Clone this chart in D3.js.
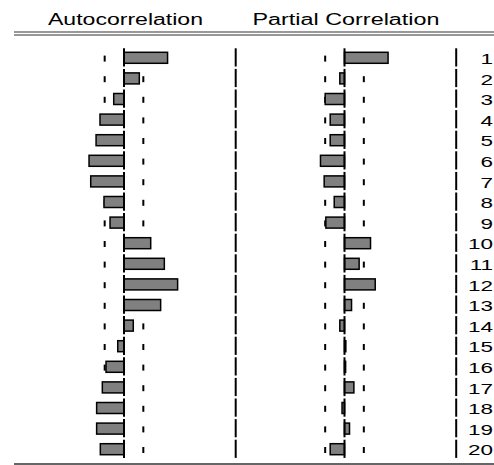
<!DOCTYPE html>
<html>
<head>
<meta charset="utf-8">
<script src="https://cdn.jsdelivr.net/npm/d3@7"></script>
<style>
  body { margin: 0; background: #fff; }
  svg { display: block; font-family: "Liberation Sans", Arial, sans-serif; }
</style>
</head>
<body>
<div id="chart-container"></div>
<script>
"use strict"

// lags shown on the right edge
const lags = [1, 2, 3, 4, 5, 6, 7, 8, 9, 10, 11, 12, 13, 14, 15, 16, 17, 18, 19, 20];

// autocorrelation
const acf = [0.39, 0.137, -0.092, -0.215, -0.25, -0.313, -0.298, -0.179, -0.125, 0.239,
             0.361, 0.48, 0.328, 0.083, -0.056, -0.161, -0.194, -0.245, -0.245, -0.212];

// partial autocorrelation (right panel)
const pacf = [0.39, -0.042, -0.173, -0.128, -0.128, -0.215, -0.182, -0.092, -0.167, 0.233,
              0.131, 0.275, 0.063, -0.042, 0.012, 0.01, 0.084, -0.022, 0.045, -0.128];

// +/- 2 standard error band
const confBand = 0.173;

const panelTitles = ["Autocorrelation", "Partial Correlation"];

document.addEventListener('DOMContentLoaded', function(){
  drawChart();
});

function drawChart(){
  let svgWidth = 494;
  let svgHeight = 465;

  const svg = d3.select('#chart-container')
    .append('svg')
    .attr('width', svgWidth)
    .attr('height', svgHeight);

  // rows
  let yScale = d3.scaleBand()
    .domain(lags)
    .range([48.3, 48.3 + 20.6 * lags.length])
    .padding(0);
  let bw = yScale.bandwidth();

  // one x scale per panel, -1..1
  let panels = [
    { title: panelTitles[0], values: acf,  x: d3.scaleLinear().domain([-1, 1]).range([124 - 111.7, 124 + 111.7]), titleW: 155 },
    { title: panelTitles[1], values: pacf, x: d3.scaleLinear().domain([-1, 1]).range([344.5 - 111.7, 344.5 + 111.7]), titleW: 187 }
  ];

  // header rules
  svg.append('line').attr('x1', 14).attr('x2', svgWidth).attr('y1', 32).attr('y2', 32)
    .attr('stroke', '#333').attr('stroke-width', 1.2);
  svg.append('line').attr('x1', 14).attr('x2', svgWidth).attr('y1', 35).attr('y2', 35)
    .attr('stroke', '#333').attr('stroke-width', 1.2);
  // bottom rule
  svg.append('line').attr('x1', 14).attr('x2', svgWidth).attr('y1', 464).attr('y2', 464)
    .attr('stroke', '#333').attr('stroke-width', 1.5);

  panels.forEach(function(p){
    let g = svg.append('g');

    g.append('text')
      .attr('x', p.x(0) + 1.5)
      .attr('y', 25)
      .attr('text-anchor', 'middle')
      .attr('font-size', 16)
      .attr('textLength', p.titleW)
      .attr('lengthAdjust', 'spacingAndGlyphs')
      .text(p.title);

    // confidence dashes (drawn first, bars sit over them)
    [-confBand, confBand].forEach(function(c){
      g.selectAll(null)
        .data(lags)
        .enter()
        .append('rect')
        .attr('x', p.x(c) - 1)
        .attr('y', d => yScale(d) + bw / 2 - 3)
        .attr('width', 2)
        .attr('height', 6)
        .attr('fill', '#000');
    });

    // bars
    g.selectAll(null)
      .data(p.values)
      .enter()
      .append('rect')
      .attr('x', d => p.x(Math.min(0, d)))
      .attr('y', (d, i) => yScale(lags[i]) + 4)
      .attr('width', d => Math.abs(p.x(d) - p.x(0)))
      .attr('height', 11)
      .attr('fill', '#808080')
      .attr('stroke', '#000')
      .attr('stroke-width', 1.5);

    // zero line and right edge, segmented per row
    [0, 1].forEach(function(v){
      g.selectAll(null)
        .data(lags)
        .enter()
        .append('line')
        .attr('x1', p.x(v))
        .attr('x2', p.x(v))
        .attr('y1', d => yScale(d))
        .attr('y2', d => yScale(d) + bw - 2.4)
        .attr('stroke', '#000')
        .attr('stroke-width', 2);
    });
  });

  // lag numbers
  svg.selectAll('.lag')
    .data(lags)
    .enter()
    .append('text')
    .attr('class', 'lag')
    .attr('transform', d => 'translate(493,' + (yScale(d) + bw / 2 + 5.4) + ') scale(1.5,1)')
    .attr('text-anchor', 'end')
    .attr('font-size', 15)
    .text(d => d);
}
</script>
</body>
</html>
